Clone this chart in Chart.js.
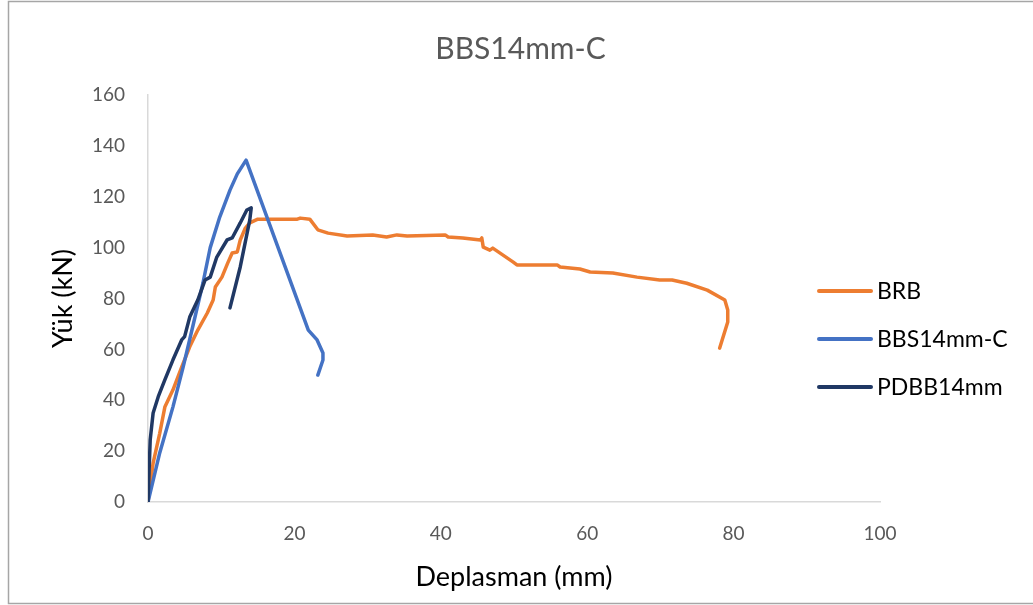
<!DOCTYPE html>
<html>
<head>
<meta charset="utf-8">
<script src="https://cdn.jsdelivr.net/npm/chart.js@4.4.1/dist/chart.umd.min.js"></script>
<style>
  body { margin: 0; background: #fff; }
  #wrap { width: 1033px; height: 605px; position: relative; }
</style>
</head>
<body>
<div id="wrap"><canvas id="myChart"></canvas></div>
<script>
// series (x = Deplasman mm, y = Yük kN)
const seriesNames = ['BRB', 'BBS14mm-C', 'PDBB14mm'];

const brbX = [0, 0.7, 1.6, 2.3, 3.4, 4.6, 5.7, 6.8, 8.1, 8.9, 9.2, 10.1, 10.9, 11.5, 12.2, 12.6, 13.3, 13.9, 15.0, 17.5,
  20.4, 20.8, 22.1, 23.2, 24.6, 27.2, 30.7, 32.6, 34.0, 35.4, 40.6, 41.0, 43.0, 45.4, 45.6, 45.8, 46.7, 47.1, 49.9,
  50.4, 55.9, 56.3, 59.0, 60.4, 63.5, 66.8, 69.9, 71.6, 73.6, 76.4, 78.8, 79.2, 79.2, 78.1];
const brbY = [0, 15.3, 27, 37.3, 44, 53, 61, 67.6, 74.3, 79.4, 84.5, 88.4, 94, 97.9, 98.3, 103, 107.7, 109.7, 111.2, 111.2,
  111.2, 111.6, 111.2, 107, 105.7, 104.6, 105, 104.2, 105, 104.6, 105, 104.2, 103.8, 103, 103.8, 100.2, 99, 99.8, 94.3,
  93.2, 93.2, 92.4, 91.6, 90.4, 90, 88.4, 87.3, 87.3, 86, 83.3, 79.4, 75.5, 70.8, 60.5];

const bbsX = [0, 1.6, 3.4, 4.8, 6.1, 7.5, 8.5, 9.8, 11.2, 12.2, 13.4, 21.9, 23.1, 23.9, 23.9, 23.2];
const bbsY = [0, 19.3, 37.3, 53, 68.8, 86, 100, 112, 122.6, 129, 134.4, 67.6, 63.7, 58.6, 55.8, 49.9];

const pdbbX = [0, 0.3, 0.7, 1.4, 2.3, 3.4, 4.6, 5.0, 5.7, 6.8, 7.8, 8.5, 9.4, 10.8, 11.5, 12.6, 13.5, 14.1, 13.9, 12.6, 11.2];
const pdbbY = [0, 24.4, 35, 41.4, 48, 55.8, 63.7, 65, 72.7, 79.4, 87.3, 88.4, 96.3, 103, 103.8, 109.7, 114.8, 115.6, 110.8, 92.4, 76.3];

const xTicks = [0, 20, 40, 60, 80, 100];
const yTicks = [0, 20, 40, 60, 80, 100, 120, 140, 160];

function pts(xs, ys) {
  return xs.map((x, i) => ({x: x, y: ys[i]}));
}

const FONT = 'Lato, "Open Sans", sans-serif';

// white background + thin outer frame like the Excel chart object
const frame = {
  id: 'frame',
  beforeDraw(chart) {
    const c = chart.ctx;
    c.save();
    c.fillStyle = '#fff';
    c.fillRect(0, 0, chart.width, chart.height);
    c.strokeStyle = '#a6a6a6';
    c.lineWidth = 1.5;
    c.strokeRect(8.5, 1.5, chart.width + 20, chart.height - 3);
    c.restore();
  }
};

// legend drawn over the right part of the plot, as in the picture
const sideLegend = {
  id: 'sideLegend',
  afterDraw(chart) {
    const c = chart.ctx;
    const x0 = chart.chartArea.right - 61;
    let y = 291;
    c.save();
    c.font = '23px ' + FONT;
    c.textBaseline = 'middle';
    c.lineCap = 'round';
    chart.data.datasets.forEach(ds => {
      c.strokeStyle = ds.borderColor;
      c.lineWidth = 4;
      c.beginPath();
      c.moveTo(x0, y);
      c.lineTo(x0 + 52, y);
      c.stroke();
      c.fillStyle = '#000';
      c.fillText(ds.label, x0 + 58, y + 1);
      y += 48;
    });
    c.restore();
  }
};

function chartIt() {
  const ctx = document.getElementById('myChart').getContext('2d');
  const line = (label, xs, ys, color, order) => ({
    label: label,
    data: pts(xs, ys),
    borderColor: color,
    backgroundColor: color,
    borderWidth: 3.5,
    borderCapStyle: 'round',
    borderJoinStyle: 'round',
    showLine: true,
    pointRadius: 0,
    tension: 0,
    order: order
  });

  new Chart(ctx, {
    type: 'scatter',
    data: {
      datasets: [
        line(seriesNames[0], brbX, brbY, '#ED7D31', 3),
        line(seriesNames[1], bbsX, bbsY, '#4472C4', 2),
        line(seriesNames[2], pdbbX, pdbbY, '#203864', 1)
      ]
    },
    options: {
      responsive: true,
      maintainAspectRatio: false,
      animation: false,
      layout: { padding: { left: 8, right: 0, top: 0, bottom: 0 } },
      plugins: {
        legend: { display: false },
        tooltip: { enabled: false },
        title: {
          display: true,
          text: 'BBS14mm-C',
          color: '#595959',
          font: { family: FONT, size: 30, weight: 'normal' },
          padding: { top: 31, bottom: 28 }
        }
      },
      scales: {
        x: {
          type: 'linear',
          min: xTicks[0],
          max: xTicks[xTicks.length - 1],
          afterBuildTicks: s => { s.ticks = xTicks.map(v => ({value: v})); },
          afterFit: s => { s.height = 103; },
          grid: { display: false, drawTicks: false },
          border: { display: true, color: '#d9d9d9', width: 1.5 },
          ticks: { padding: 20, color: '#595959', font: { family: FONT, size: 19 } },
          title: {
            display: true,
            text: 'Deplasman (mm)',
            color: '#000',
            font: { family: FONT, size: 27 },
            padding: { top: 0, bottom: 12 }
          }
        },
        y: {
          type: 'linear',
          min: yTicks[0],
          max: yTicks[yTicks.length - 1],
          afterBuildTicks: s => { s.ticks = yTicks.map(v => ({value: v})); },
          afterFit: s => { s.width = 140; },
          grid: { display: false, drawTicks: false },
          border: { display: true, color: '#d9d9d9', width: 1.5 },
          ticks: { padding: 23, color: '#595959', font: { family: FONT, size: 19 } },
          title: {
            display: true,
            text: 'Yük (kN)',
            color: '#000',
            font: { family: FONT, size: 27 },
            padding: { top: 39, bottom: 0 }
          }
        },
        // empty right-hand axis: only reserves the room where the legend sits
        yRight: {
          type: 'linear',
          position: 'right',
          afterFit: s => { s.width = 153; },
          grid: { display: false, drawTicks: false },
          border: { display: false },
          ticks: { display: false }
        }
      }
    },
    plugins: [frame, sideLegend]
  });
}

chartIt();
</script>
</body>
</html>
